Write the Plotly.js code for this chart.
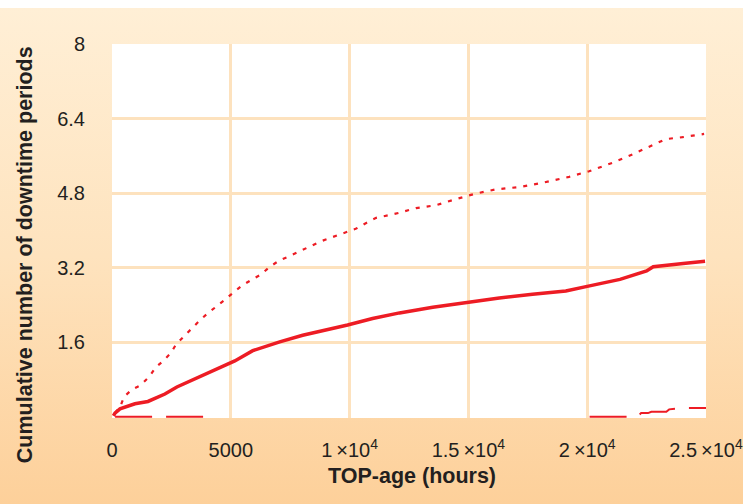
<!DOCTYPE html>
<html>
<head>
<meta charset="utf-8">
<script src="https://cdn.plot.ly/plotly-3.0.1.min.js"></script>
<style>
  html, body { margin: 0; padding: 0; background: #ffffff; }
  #bg { position: absolute; left: 0; top: 8px; width: 743px; height: 496px;
        background: linear-gradient(to bottom, #FFEFD6 0%, #FEE3BE 50%, #FDD09A 100%); }
  #chart { position: absolute; left: 0; top: 0; width: 753px; height: 504px; }
</style>
</head>
<body>
<div id="bg"></div>
<div id="chart"></div>
<script>
// Solid series (cumulative downtime periods)
const solidX = [60, 126, 336, 966, 1513, 2227, 2731, 3361, 3908, 4622, 5168, 5924, 7059, 8025, 9160, 9916, 10966, 12100, 13500, 14900, 16300, 17700, 19100, 20000, 21380, 22500, 22780, 24040, 24960];
const solidY = [0.02, 0.08, 0.17, 0.28, 0.33, 0.49, 0.64, 0.78, 0.92, 1.07, 1.2, 1.42, 1.61, 1.75, 1.88, 1.97, 2.11, 2.23, 2.35, 2.45, 2.55, 2.63, 2.70, 2.80, 2.95, 3.13, 3.22, 3.29, 3.34];

// Dotted series (upper bound)
const dotX = [130, 378, 504, 827, 1206, 1567, 1836, 2155, 2479, 2689, 3013, 3349, 3697, 3978, 4398, 4720, 5140, 5450, 5870, 6290, 6639, 7059, 7479, 7899, 8347, 8809, 9300, 9790, 10280, 10700, 11120, 11680, 12100, 12800, 13640, 14400, 15300, 16150, 17130, 18110, 19240, 20080, 21060, 21900, 22470, 23310, 24010, 24920];
const dotY = [0.08, 0.26, 0.43, 0.58, 0.68, 0.86, 1.06, 1.2, 1.37, 1.55, 1.72, 1.9, 2.07, 2.2, 2.36, 2.5, 2.68, 2.81, 2.94, 3.06, 3.22, 3.36, 3.45, 3.56, 3.66, 3.77, 3.86, 3.96, 4.04, 4.16, 4.27, 4.33, 4.38, 4.48, 4.54, 4.66, 4.79, 4.88, 4.93, 5.02, 5.15, 5.27, 5.45, 5.63, 5.77, 5.96, 6.0, 6.07];

// Dashed series (lower bound)
const dashX = [130, 3900, null, 20100, 22100, 22270, 22560, 22700, 23330, 23450, 24000, 25000];
const dashY = [0, 0, null, 0, 0, 0.08, 0.08, 0.11, 0.11, 0.16, 0.19, 0.19];

// Tick labels
const xTickVals = [0, 5000, 10000, 15000, 20000, 25000];
const xTickText = ['0', '5000', '1\u2009×10<sup>4</sup>', '1.5\u2009×10<sup>4</sup>', '2\u2009×10<sup>4</sup>', '2.5\u2009×10<sup>4</sup>'];
const yTickVals = [1.6, 3.2, 4.8, 6.4, 8];
const yTickText = ['1.6', '3.2', '4.8', '6.4', '8'];

const red = 'rgb(237,28,36)';
const grid = 'rgb(253,226,190)';
const txt = '#231F20';

const traces = [
  { x: dashX, y: dashY, mode: 'lines', line: { color: red, width: 2, dash: '37px,14px' }, connectgaps: false, hoverinfo: 'skip' },
  { x: dotX, y: dotY, mode: 'lines', line: { color: red, width: 2.2, dash: '4px,7px' }, hoverinfo: 'skip' },
  { x: solidX, y: solidY, mode: 'lines', line: { color: red, width: 3.5 }, hoverinfo: 'skip' }
];

const layout = {
  width: 753, height: 504,
  margin: { l: 112, r: 47, t: 44, b: 86 },
  paper_bgcolor: 'rgba(0,0,0,0)',
  plot_bgcolor: '#ffffff',
  showlegend: false,
  font: { family: 'Liberation Sans, Arial, sans-serif', size: 20, color: txt },
  xaxis: {
    range: [0, 25000], tickvals: xTickVals, ticktext: xTickText,
    showgrid: true, gridcolor: grid, gridwidth: 3, zeroline: false, showline: false,
    ticks: 'outside', ticklen: 14, tickcolor: 'rgba(0,0,0,0)',
    tickfont: { size: 20, color: txt }, fixedrange: true
  },
  yaxis: {
    range: [-0.025, 8], tickvals: yTickVals, ticktext: yTickText,
    showgrid: true, gridcolor: grid, gridwidth: 3, zeroline: false, showline: false,
    ticks: 'outside', ticklen: 22, tickcolor: 'rgba(0,0,0,0)',
    tickfont: { size: 20, color: txt }, fixedrange: true
  },
  annotations: [
    { text: '<b>TOP-age (hours)</b>', xref: 'paper', yref: 'paper', x: 0.505, y: -0.155,
      xanchor: 'center', yanchor: 'middle', showarrow: false, font: { size: 21.5, color: txt } },
    { text: '<b>Cumulative number of downtime periods</b>', xref: 'paper', yref: 'paper', x: -0.146, y: 0.436,
      xanchor: 'center', yanchor: 'middle', textangle: -90, showarrow: false, font: { size: 21.5, color: txt } }
  ]
};

Plotly.newPlot('chart', traces, layout, { displayModeBar: false, staticPlot: true });
</script>
</body>
</html>
